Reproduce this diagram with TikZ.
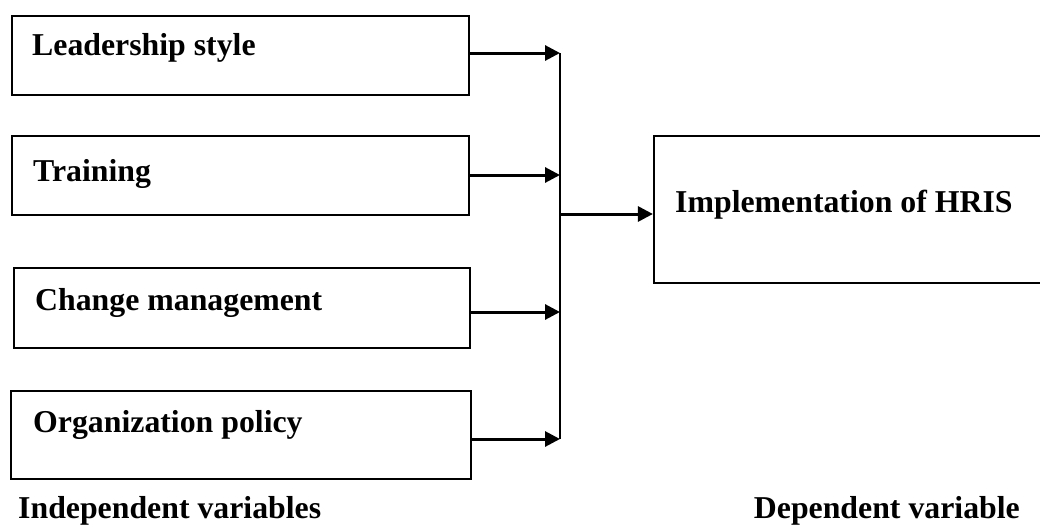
\documentclass[tikz,border=0pt]{standalone}
\usepackage{fontspec}
\setmainfont{Liberation Serif}
\usetikzlibrary{arrows.meta}
\begin{document}
\begin{tikzpicture}[x=1pt,y=-1pt,
  box/.style={draw=black,line width=2.2pt,rectangle,inner sep=0pt},
  lbl/.style={anchor=base west,inner sep=0pt,font=\fontsize{31.8}{38}\selectfont\bfseries},
  arr/.style={line width=3pt,-{Triangle[length=15pt,width=15pt]}},
  bus/.style={line width=1.4pt}]
\useasboundingbox (0,0) rectangle (1040,525);
\fill[white] (0,0) rectangle (1040,525);
% boxes
\node[box,minimum width=457pt,minimum height=79pt] (b1) at (240.5,55.5) {};
\node[box,minimum width=457pt,minimum height=79pt] (b2) at (240.5,175.5) {};
\node[box,minimum width=456pt,minimum height=80pt] (b3) at (242,308) {};
\node[box,minimum width=460pt,minimum height=88pt] (b4) at (241,435) {};
\node[box,minimum width=391pt,minimum height=147pt] (h) at (849.5,209.5) {};
% texts
\node[lbl] (t1) at (32,55) {Leadership style};
\node[lbl] (t2) at (33,181) {Training};
\node[lbl] (t3) at (35,310) {Change management};
\node[lbl] (t4) at (33,432) {Organization policy};
\node[lbl] (t5) at (675,212) {Implementation of HRIS};
\node[lbl] (t6) at (18,518) {Independent variables};
\node[lbl,anchor=base east] (t7) at (1020,518) {Dependent variable};
% connectors
\coordinate (a1) at (560,53);
\coordinate (a2) at (560,175);
\coordinate (a3) at (560,312);
\coordinate (a4) at (560,439);
\coordinate (j) at (560,214);
\draw[bus] (a1) -- (a4);
\draw[arr] (b1.east |- a1) -- (a1);
\draw[arr] (b2.east |- a2) -- (a2);
\draw[arr] (b3.east |- a3) -- (a3);
\draw[arr] (b4.east |- a4) -- (a4);
\draw[arr] (j) -- (h.west |- j);
\end{tikzpicture}
\end{document}
